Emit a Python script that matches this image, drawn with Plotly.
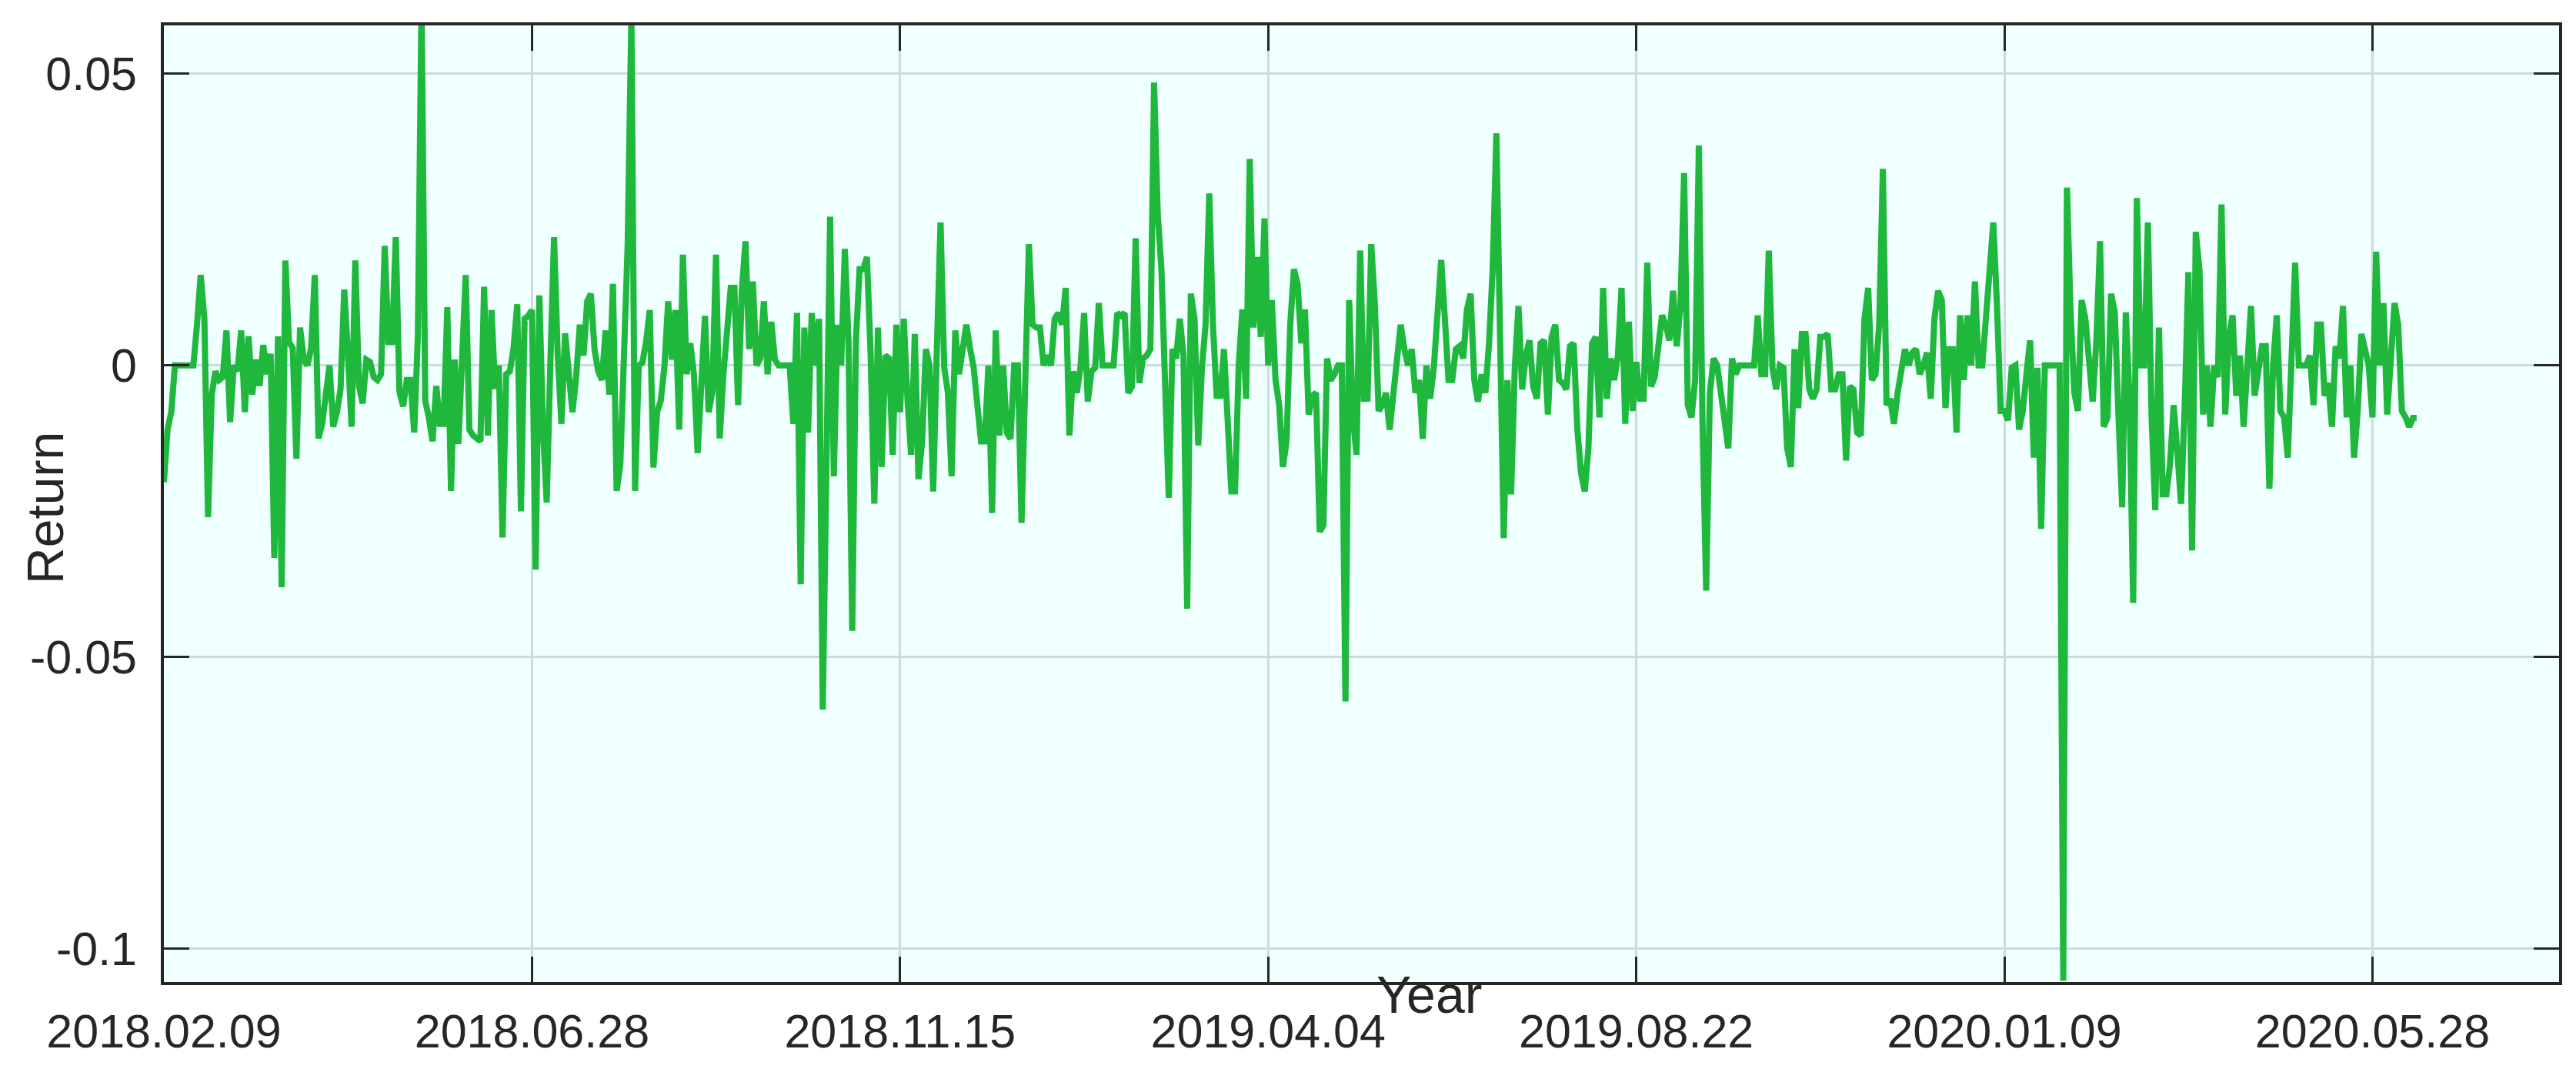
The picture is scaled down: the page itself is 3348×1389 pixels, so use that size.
import plotly.graph_objects as go

# Daily returns (trading-day index 0..612)
returns = [
    -0.020, -0.011, -0.008, 0.0, 0.0, 0.0, 0.0, 0.0, 0.0, 0.007,
    0.0155, 0.008, -0.026, -0.005, -0.001, -0.0025, -0.002, 0.006, -0.0097, 0.0,
    -0.001, 0.006, -0.008, 0.005, -0.005, 0.001, -0.0035, 0.0035, -0.0015, 0.002,
    -0.033, 0.005, -0.038, 0.018, 0.004, 0.003, -0.016, 0.0065, 0.001, 0.0,
    0.003, 0.0155, -0.0125, -0.01, -0.004, 0.0, -0.0105, -0.008, -0.004, 0.013,
    0.002, -0.0105, 0.018, -0.0035, -0.0065, 0.001, 0.0006, -0.002, -0.0025, -0.0015,
    0.0205, 0.004, 0.004, 0.022, -0.0045, -0.007, -0.0025, -0.0025, -0.0115, 0.005,
    0.063, -0.006, -0.009, -0.013, -0.0035, -0.01, -0.01, 0.010, -0.0215, 0.001,
    -0.0135, 0.0, 0.0155, -0.011, -0.012, -0.0125, -0.013, 0.0135, -0.012, 0.0095,
    -0.004, 0.0, -0.0295, -0.0015, -0.001, 0.003, 0.0105, -0.025, 0.008, 0.0085,
    0.0095, -0.035, 0.012, -0.011, -0.0235, 0.0006, 0.022, 0.0017, -0.01, 0.0055,
    -0.0025, -0.008,
    # 112
    -0.002, 0.007, 0.0017, 0.011, 0.0123, 0.0027, -0.001, -0.0025,
    0.006, -0.005, 0.014, -0.0215, -0.017, 0.003, 0.0207, 0.060, -0.0215, 0.0,
    0.0005, 0.004, 0.0095, -0.0175, -0.008, -0.006, 0.0, 0.011, 0.001, 0.0095,
    -0.011, 0.019, -0.0015, 0.0038, -0.0015, -0.015, -0.0045, 0.0085, -0.008, -0.0045,
    0.019, -0.0125, -0.0015, 0.0065, 0.0133, 0.0133, -0.0068, 0.0128, 0.0213, 0.0028,
    0.0144, 0.0, 0.0012, 0.011, -0.0015, 0.0075, 0.001, 0.0, 0.0, 0.0,
    0.0, -0.01, 0.009, -0.0375, 0.0065, -0.0115, 0.009, 0.0, 0.008, -0.059,
    -0.008, 0.0255, -0.019, 0.007, 0.0, 0.020, 0.004, -0.0455, 0.0043, 0.0165,
    0.0165, 0.0186, 0.002, -0.0237, 0.0065, -0.0174, 0.0017, 0.0012, -0.0153, 0.007,
    -0.008, 0.008, -0.0057, -0.0153, 0.0054, -0.0195, -0.013, 0.0028, 0.0, -0.0216,
    0.003, 0.0245, -0.0004, -0.0047, -0.019, 0.006, -0.0015, 0.0033, 0.007, 0.003,
    # 220
    -0.0004, -0.0068, -0.013, -0.013, 0.0, -0.0253, 0.006, -0.012, 0.0, -0.0115,
    -0.0126, 0.0, 0.0, -0.027, -0.0047, 0.0208, 0.007, 0.0065, 0.0065, 0.0,
    0.0017, 0.0, 0.008, 0.009, 0.007, 0.0133, -0.012, -0.001, -0.0047, -0.0004,
    0.009, -0.0062, -0.001, -0.0004, 0.0107, 0.0, 0.0, 0.0, 0.0, 0.009,
    0.0085, 0.009, -0.0047, -0.0036, 0.0218, -0.003, 0.0012, 0.0017, 0.0028, 0.0485,
    0.026, 0.0165, -0.0047, -0.0227, 0.0028, 0.0012, 0.008, 0.0017, -0.0417, 0.0123,
    0.008, -0.0137, -0.0004, 0.007, 0.0295, 0.007, -0.0052, -0.0052, 0.0028, -0.01,
    -0.0216, -0.0216, 0.0, 0.0096, -0.0057, 0.0354, 0.0065, 0.0186, 0.0049, 0.0252,
    0.0, 0.0112, -0.0025, -0.0068, -0.0174, -0.013, 0.007, 0.0165, 0.0139, 0.0038,
    0.0096, -0.0084, -0.0052, -0.0047, -0.0285, -0.0274, 0.0012, -0.0025, -0.0015, 0.0,
    0.0, -0.0576, 0.0112, -0.0089, -0.0153, 0.0197, -0.0057, -0.0057, 0.0208,
    # 329
    0.0102, -0.0078, -0.0068, -0.0047, -0.011, -0.0047, 0.0, 0.007, 0.0028, 0.0,
    0.0028, -0.0047, -0.0025, -0.0126, 0.0, -0.0057, -0.0004, 0.0102, 0.0181, 0.008,
    -0.0025, -0.0025, 0.0028, 0.0033, 0.0012, 0.0096, 0.0123, -0.0025, -0.0062, -0.0015,
    -0.0047, 0.0038, 0.0165, 0.0398, -0.0004, -0.0296, -0.0025, -0.0221, -0.0004, 0.0102,
    -0.0041, 0.0017, 0.0043, -0.0036, -0.0057, 0.0038, 0.0043, -0.0084, 0.0049, 0.007,
    -0.0025, -0.003, -0.0041, 0.0033, 0.0038, -0.011, -0.0184, -0.0216, -0.0142, 0.0038,
    0.0049, -0.0089, 0.0133, -0.0057, 0.0012, -0.0025, 0.0017, 0.0133, -0.01, 0.0075,
    -0.0078, 0.0006, -0.0057, -0.0057, 0.0176, -0.0036, -0.002, 0.0028, 0.0086, 0.007,
    0.0043, 0.0128, 0.0033, 0.0102, 0.033, -0.0068, -0.0089, -0.0025, 0.0377, -0.01,
    -0.0386, -0.0047, 0.0012, 0.0, -0.0047, -0.01, -0.0142, 0.0012, -0.0015, 0.0,
    0.0, 0.0, 0.0, 0.0, 0.0086, -0.0015, -0.0015, 0.0197, -0.0004, -0.0041,
    # 439
    0.0, -0.0004, -0.0142, -0.0174, 0.0028, -0.0073, 0.0054, 0.0054, -0.0041, -0.0057,
    -0.0041, 0.0049, 0.0049, 0.0054, -0.0041, -0.0041, -0.0015, -0.0015, -0.0163, -0.0036,
    -0.0041, -0.0115, -0.012, 0.008, 0.0133, -0.0025, -0.0015, 0.007, 0.0337, -0.0068,
    -0.0057, -0.01, -0.0047, -0.0004, 0.0028, 0.0, 0.0022, 0.0028, -0.0015, 0.0,
    0.0022, -0.0057, 0.008, 0.0128, 0.0112, -0.0073, 0.0028, 0.0028, -0.0115, 0.0086,
    -0.0025, 0.0086, 0.0, 0.0144, 0.0, 0.0, 0.0075, 0.0181, 0.0245, 0.0102,
    -0.0078, -0.0078, -0.0094, -0.0004, 0.0, -0.011, -0.0078, -0.0015, 0.0043, -0.0158,
    -0.0004, -0.028, 0.0, 0.0, 0.0, 0.0, 0.0, -0.1055, 0.0305, 0.009,
    -0.0047, -0.0078, 0.0112, 0.008, 0.0017, -0.0062, 0.0043, 0.0213, -0.0105, -0.0089,
    0.0123, 0.0091, -0.0084, -0.0243, 0.0091, -0.0057, -0.0407, 0.0287, 0.0, 0.0,
    0.0245, -0.0089, -0.0248, 0.0065, -0.0221, -0.0221, -0.017,
    # 546
    -0.0068, -0.015, -0.0237, -0.0068, 0.016, -0.0317, 0.0229, 0.0165, -0.0084, 0.0,
    -0.0105, 0.0, -0.002, 0.0276, -0.0084, 0.0049, 0.0086, -0.0052, 0.0017, -0.0105,
    0.0012, 0.0102, -0.0052, -0.0004, 0.0033, 0.0033, -0.0211, 0.0, 0.0086, -0.0078,
    -0.0089, -0.0158, 0.0049, 0.0176, 0.0, 0.0, 0.0, 0.0017, -0.0068, 0.007,
    0.007, -0.0052, -0.003, -0.0105, 0.0033, 0.0012, 0.0102, -0.0089, 0.0, -0.0158,
    -0.0078, 0.0054, 0.0028, 0.0, -0.0089, 0.0195, 0.0, 0.0107, -0.0084, 0.0,
    0.0107, 0.007, -0.0078, -0.0089, -0.0105, -0.009, -0.009,
]
day_index = list(range(len(returns)))

x_tick_positions = [0, 100, 200, 300, 400, 500, 600]
x_tick_labels = ["2018.02.09", "2018.06.28", "2018.11.15", "2019.04.04",
                 "2019.08.22", "2020.01.09", "2020.05.28"]
y_tick_values = [-0.1, -0.05, 0, 0.05]
y_tick_labels = ["-0.1", "-0.05", "0", "0.05"]

FONT = "Liberation Sans, Arial, Helvetica, sans-serif"
AX = "#262626"
GRID = "#CCDCDC"

fig = go.Figure()
fig.add_trace(go.Scatter(
    x=day_index, y=returns, mode="lines",
    line=dict(color="rgb(31,184,61)", width=8),
    showlegend=False, hoverinfo="skip",
))

axis_common = dict(
    showline=True, linecolor=AX, linewidth=3.5, mirror="ticks",
    ticks="inside", ticklen=33, tickwidth=3, tickcolor=AX,
    showgrid=True, gridcolor=GRID, gridwidth=3, zeroline=False,
    tickfont=dict(family=FONT, size=61, color=AX),
)

fig.update_xaxes(
    range=[0, 650.7], tickmode="array",
    tickvals=x_tick_positions, ticktext=x_tick_labels,
    ticklabelstandoff=8, **axis_common,
)
fig.update_yaxes(
    range=[-0.1057, 0.0583], tickmode="array",
    tickvals=y_tick_values, ticktext=y_tick_labels,
    ticklabelstandoff=19, **axis_common,
)

fig.add_annotation(
    text="Return", textangle=-90, xref="paper", yref="paper",
    x=-0.0495, y=0.4956, xanchor="center", yanchor="middle",
    showarrow=False, font=dict(family=FONT, size=66, color=AX),
)
fig.add_annotation(
    text="Year", xref="paper", yref="paper",
    x=0.5284, y=-0.0129, xanchor="center", yanchor="middle",
    showarrow=False, font=dict(family=FONT, size=68, color=AX),
)

fig.update_layout(
    width=3348, height=1389,
    margin=dict(l=205, r=30, t=25, b=121),
    paper_bgcolor="white", plot_bgcolor="#F0FFFF",
)

fig.write_html("out.html")
